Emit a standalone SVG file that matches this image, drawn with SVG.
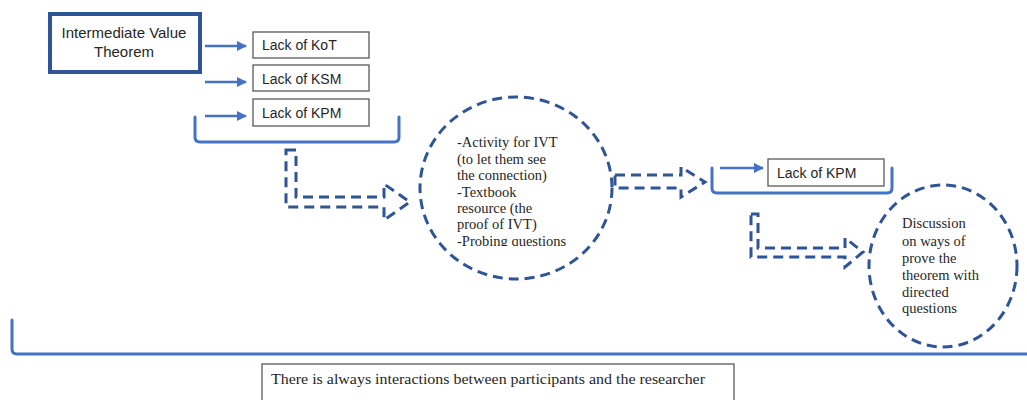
<svg xmlns="http://www.w3.org/2000/svg" width="1027" height="400" viewBox="0 0 1027 400">
<style>
.sans{font-family:"Liberation Sans",Arial,sans-serif;font-size:14px;fill:#262626}
.big{font-size:15px}
.serif{font-family:"Liberation Serif","Times New Roman",serif;font-size:14.5px;fill:#262626}
.box{fill:#fff;stroke:#595959;stroke-width:1.3}
.arr{stroke:#4472c4;stroke-width:2.5;fill:none}
.brk{stroke:#4472c4;stroke-width:3;fill:none;stroke-linecap:round;stroke-linejoin:round}
.dash{stroke:#2f5597;stroke-width:3;fill:none;stroke-dasharray:10 6}
</style>
<defs>
<marker id="ah" viewBox="0 0 10 10" refX="9" refY="5" markerWidth="4" markerHeight="4" orient="auto" markerUnits="strokeWidth">
<path d="M0,0 L10,5 L0,10 z" fill="#4472c4"/>
</marker>
<clipPath id="c1"><rect x="420" y="120" width="190" height="126"/></clipPath>
</defs>
<rect width="1027" height="400" fill="#fff"/>
<g id="ivt">
<rect x="50" y="14" width="150" height="58" fill="#fff" stroke="#2f5597" stroke-width="4"/>
<text class="sans big" x="124" y="38" text-anchor="middle">Intermediate Value</text>
<text class="sans big" x="124" y="57" text-anchor="middle">Theorem</text>
</g>
<g id="kot"><rect class="box" x="253" y="32" width="116" height="26"/><text class="sans" x="262" y="50">Lack of KoT</text></g>
<g id="ksm"><rect class="box" x="253" y="65" width="116" height="26"/><text class="sans" x="262" y="84">Lack of KSM</text></g>
<g id="kpm1"><rect class="box" x="253" y="99" width="116" height="27"/><text class="sans" x="262" y="118">Lack of KPM</text></g>
<g id="activity">
<ellipse class="dash" cx="516" cy="188" rx="96" ry="91" stroke-dasharray="12 8"/>
<g clip-path="url(#c1)">
<text class="serif" x="457" y="147">-Activity for IVT</text>
<text class="serif" x="457" y="164">(to let them see</text>
<text class="serif" x="457" y="180">the connection)</text>
<text class="serif" x="457" y="197">-Textbook</text>
<text class="serif" x="457" y="213">resource (the</text>
<text class="serif" x="457" y="229">proof of IVT)</text>
<text class="serif" x="457" y="246">-Probing questions</text>
</g>
</g>
<g id="kpm2"><rect class="box" x="768" y="159" width="116" height="27"/><text class="sans" x="777" y="178">Lack of KPM</text></g>
<g id="discussion">
<ellipse class="dash" cx="943" cy="266" rx="74" ry="81" stroke-dasharray="12 8"/>
<text class="serif" x="902" y="228">Discussion</text>
<text class="serif" x="902" y="246">on ways of</text>
<text class="serif" x="902" y="263">prove the</text>
<text class="serif" x="902" y="280">theorem with</text>
<text class="serif" x="902" y="297">directed</text>
<text class="serif" x="902" y="313">questions</text>
</g>
<g id="note">
<rect class="box" x="262" y="364" width="472" height="50"/>
<text class="serif" x="271" y="384" font-size="15.4" textLength="434" lengthAdjust="spacingAndGlyphs">There is always interactions between participants and the researcher</text>
</g>
<g id="connectors">
<line class="arr" x1="205" y1="46" x2="246" y2="46" marker-end="url(#ah)"/>
<line class="arr" x1="205" y1="82" x2="246" y2="82" marker-end="url(#ah)"/>
<line class="arr" x1="205" y1="116" x2="246" y2="116" marker-end="url(#ah)"/>
<line class="arr" x1="720" y1="168" x2="763" y2="168" marker-end="url(#ah)"/>
<path class="brk" d="M195,117 V137 Q195,142 200,142 H394 Q399,142 399,137 V117"/>
<path class="brk" d="M712,168 V188 Q712,193 717,193 H887 Q892,193 892,188 V168"/>
<path class="brk" d="M12,320 V349 Q12,354 17,354 H1030"/>
<path class="dash" d="M286,150 H296 V197 H384 V184 L410,202 L384,220 V207 H286 Z"/>
<path class="dash" d="M615,175 H681 V167 L705,182 L681,197 V188 H615 Z"/>
<path class="dash" d="M751,214 H758 V248 H845 V238 L863,252 L845,267 V257 H751 Z"/>
</g>
</svg>
